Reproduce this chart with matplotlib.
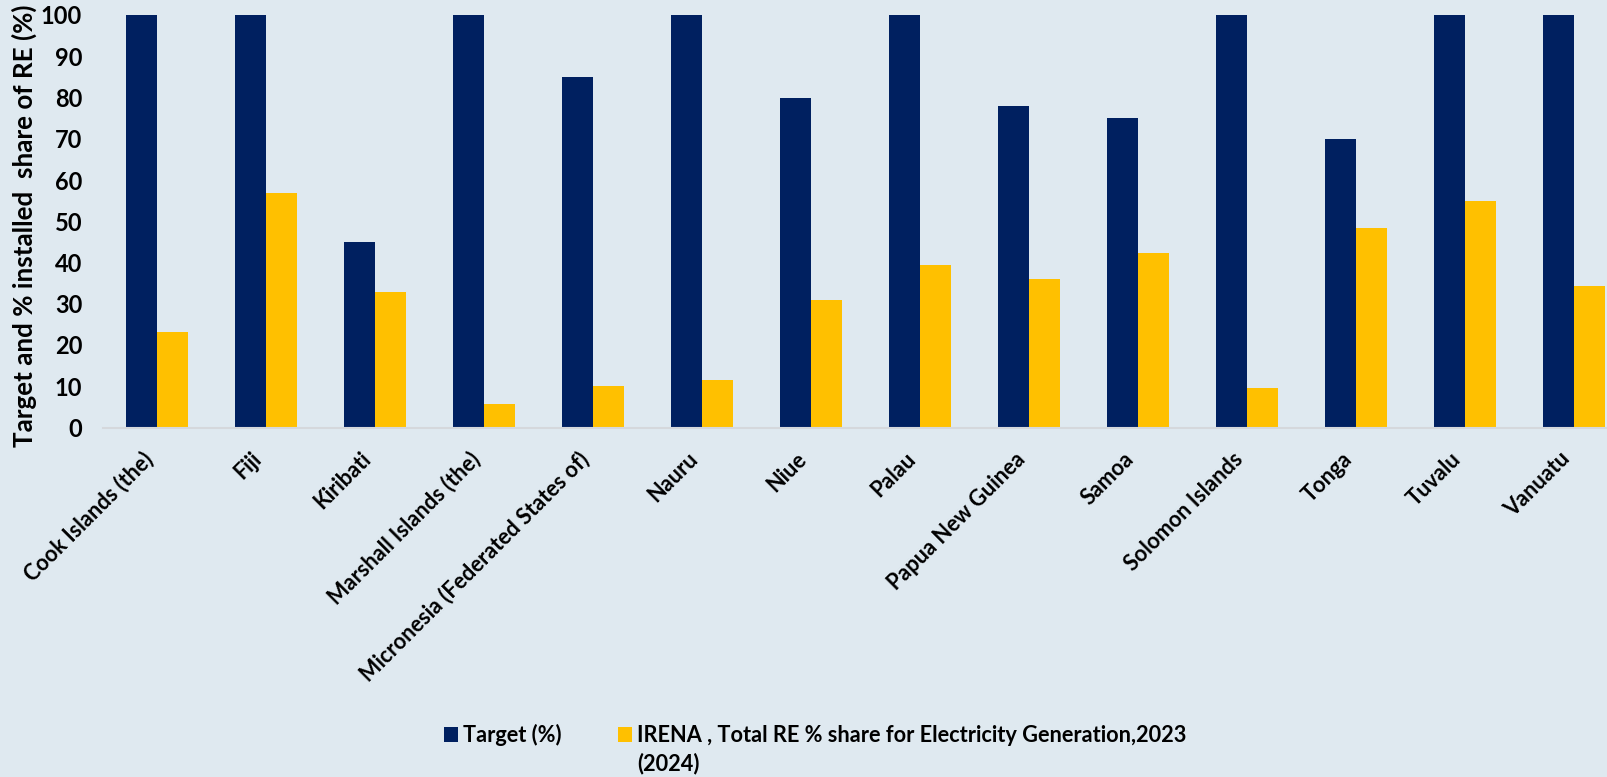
import matplotlib.pyplot as plt
import numpy as np
from matplotlib.transforms import ScaledTranslation

countries = ['Cook Islands (the)', 'Fiji', 'Kiribati', 'Marshall Islands (the)',
             'Micronesia (Federated States of)', 'Nauru', 'Niue', 'Palau',
             'Papua New Guinea', 'Samoa', 'Solomon Islands', 'Tonga', 'Tuvalu', 'Vanuatu']
target = [100, 100, 45, 100, 85, 100, 80, 100, 78, 75, 100, 70, 100, 100]
irena = [23.2, 56.8, 32.8, 5.7, 10.1, 11.6, 31.0, 39.3, 36.0, 42.4, 9.6, 48.3, 54.9, 34.4]

label_target = 'Target (%)'
label_irena = 'IRENA , Total RE % share for Electricity Generation,2023'
label_irena_2 = '(2024)'

navy = '#002060'
gold = '#FFC000'
bg = '#DFE9F0'

plt.rcParams['font.family'] = ['Lato', 'DejaVu Sans']
plt.rcParams['font.weight'] = 'bold'

W, H = 1608, 777
fig = plt.figure(figsize=(W / 100, H / 100), dpi=100, facecolor=bg)
ax = fig.add_axes([103 / W, 1 - 427.5 / H, 1 - 103 / W, 412.5 / H])
ax.set_facecolor(bg)

x = np.arange(len(countries))
w = 0.284
ax.bar(x - w / 2, target, w, color=navy, label=label_target)
ax.bar(x + w / 2, irena, w, color=gold, label=label_irena)

ax.set_xlim(-0.493, 13.31)
ax.set_ylim(0, 100)
ax.set_yticks(range(0, 101, 10))
ax.set_xticks(x)
ax.set_xticklabels(countries, rotation=45, ha='right', fontsize=15.6, fontweight='bold')
for lab in ax.get_xticklabels():
    lab.set_transform(lab.get_transform() + ScaledTranslation(0.12, 0, fig.dpi_scale_trans))
ax.tick_params(axis='both', length=0)
ax.tick_params(axis='y', pad=15, labelsize=17)
ax.tick_params(axis='x', pad=15)
for s in ['top', 'right', 'left']:
    ax.spines[s].set_visible(False)
ax.spines['bottom'].set_color('#D5D8DC')
ax.spines['bottom'].set_linewidth(1.5)

ax.set_ylabel('Target and % installed  share of RE (%)', fontsize=18.7, fontweight='bold')
ax.yaxis.set_label_coords(-0.0438, 0.49)

leg = fig.legend(loc='center left', bbox_to_anchor=(444 / W, 1 - 735 / H), ncol=2,
                 frameon=False, fontsize=15.7, handlelength=0.64, handleheight=0.64,
                 handletextpad=0.23, columnspacing=2.6, borderpad=0, borderaxespad=0)

fig.canvas.draw()
r = fig.canvas.get_renderer()
tb = leg.get_texts()[1].get_window_extent(r)
fig.text(tb.x0 / W, ((tb.y0 + tb.y1) / 2 - 28) / H, label_irena_2, fontsize=15.7,
         fontweight='bold', ha='left', va='center')

fig.savefig('out.png', dpi=100, facecolor=bg)
